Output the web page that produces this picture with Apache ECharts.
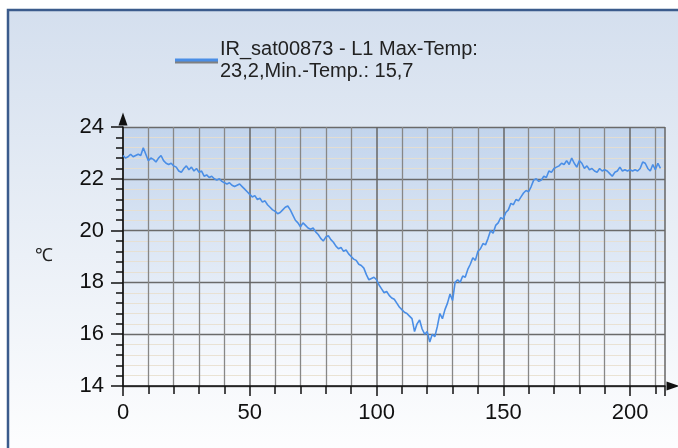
<!DOCTYPE html>
<html>
<head>
<meta charset="utf-8">
<script src="https://cdn.jsdelivr.net/npm/echarts@6/dist/echarts.min.js"></script>
<style>
html,body{margin:0;padding:0;background:#fff}
#chart{width:678px;height:448px}
</style>
</head>
<body>
<div id="chart"></div>
<script>
// temperature along the profile, one value per sample (0..212)
var temps = [
  22.9, 22.8, 22.85, 22.95, 22.85, 22.9, 22.95, 22.9, 23.2, 22.95,
  22.7, 22.8, 22.75, 22.65, 22.8, 22.9, 22.7, 22.6, 22.55, 22.6,
  22.5, 22.45, 22.3, 22.25, 22.4, 22.5, 22.35, 22.45, 22.3, 22.4,
  22.25, 22.3, 22.1, 22.15, 22.05, 22.1, 22.0, 21.95, 22.0, 21.9,
  21.85, 21.8, 21.85, 21.75, 21.7, 21.75, 21.8, 21.7, 21.6, 21.5,
  21.4, 21.3, 21.35, 21.2, 21.25, 21.1, 21.15, 21.0, 20.9, 20.8,
  20.75, 20.65, 20.7, 20.8, 20.9, 20.95, 20.8, 20.6, 20.4, 20.3,
  20.15, 20.3, 20.2, 20.1, 20.05, 20.1, 19.95, 19.85, 19.7, 19.6,
  19.75, 19.8, 19.65, 19.55, 19.4, 19.3, 19.35, 19.2, 19.25, 19.1,
  19.0, 18.9, 18.85, 18.7, 18.65, 18.55, 18.3, 18.1, 18.15, 18.2,
  18.1, 17.9, 17.75, 17.6, 17.65, 17.5, 17.4, 17.35, 17.2, 17.05,
  16.95, 16.85, 16.8, 16.7, 16.6, 16.1, 16.4, 16.55, 16.2, 16.0,
  16.1, 15.7, 16.0, 15.9, 16.3, 16.8, 16.6, 16.95, 17.2, 17.55,
  17.3, 18.0, 18.1, 18.0, 18.25, 18.2, 18.5, 18.7, 18.95, 18.85,
  19.2, 19.3, 19.5, 19.45, 19.7, 20.0, 19.9, 20.2, 20.3, 20.5,
  20.45, 20.7, 20.8, 21.05, 21.0, 21.2, 21.15, 21.3, 21.45, 21.55,
  21.5, 21.7, 21.95, 22.0, 21.9, 21.95, 22.1, 22.05, 22.3, 22.25,
  22.4, 22.45, 22.5, 22.6, 22.55, 22.7, 22.55, 22.8, 22.6, 22.45,
  22.7, 22.6, 22.4, 22.5, 22.35, 22.4, 22.3, 22.25, 22.4, 22.3,
  22.35, 22.3, 22.2, 22.1, 22.25, 22.3, 22.45, 22.3, 22.35, 22.3,
  22.35, 22.3, 22.35, 22.3, 22.4, 22.65, 22.6, 22.4, 22.3, 22.55,
  22.35, 22.6, 22.4
];
var seriesName = 'IR_sat00873 - L1 Max-Temp:\n23,2,Min.-Temp.: 15,7';
var yTicks = [14, 16, 18, 20, 22, 24];
var xTicks = [0, 50, 100, 150, 200];

var points = temps.map(function (v, i) { return [i, v]; });

var chart = echarts.init(document.getElementById('chart'));
var font = 'Liberation Sans, Arial, sans-serif';

chart.setOption({
  animation: false,
  graphic: [{
    type: 'rect',
    z: -10,
    shape: { x: 8, y: 10, width: 700, height: 460 },
    style: {
      fill: new echarts.graphic.LinearGradient(0, 0, 0, 1, [
        { offset: 0, color: '#d4dfee' },
        { offset: 1, color: '#ffffff' }
      ]),
      stroke: '#3b5b8c',
      lineWidth: 2.5
    }
  }],
  legend: {
    left: 170,
    top: 33,
    itemWidth: 43,
    itemHeight: 3,
    itemGap: 4,
    icon: 'rect',
    textStyle: { fontFamily: font, fontSize: 20, color: '#222', lineHeight: 22, padding: [0, 0, 0, -3] },
    data: [{ name: seriesName, itemStyle: { color: '#4a8ee6', shadowColor: '#808080', shadowOffsetY: 2, shadowBlur: 0 } }]
  },
  grid: {
    left: 123, top: 127, width: 542, height: 259,
    show: true,
    borderWidth: 0,
    backgroundColor: new echarts.graphic.LinearGradient(0, 0, 0, 1, [
      { offset: 0, color: '#c2d4ec' },
      { offset: 1, color: '#fbfcfe' }
    ])
  },
  xAxis: {
    type: 'value',
    min: 0,
    max: 213.8,
    interval: 50,
    axisLine: { lineStyle: { color: '#111', width: 1.5 }, symbol: ['none', 'triangle'], symbolSize: [9, 13], symbolOffset: [0, 8] },
    axisTick: { length: 10, lineStyle: { color: '#111', width: 1.5 } },
    minorTick: { show: true, splitNumber: 5, length: 8, lineStyle: { color: '#111', width: 1.5 } },
    splitLine: { show: true, lineStyle: { color: '#666', width: 1.5 } },
    minorSplitLine: { show: true, lineStyle: { color: '#878787', width: 1.3 } },
    axisLabel: {
      fontFamily: font, fontSize: 22, color: '#111', margin: 16,
      formatter: function (v) { return xTicks.indexOf(v) >= 0 ? String(v) : ''; }
    }
  },
  yAxis: {
    type: 'value',
    min: 14,
    max: 24,
    interval: 2,
    name: '℃',
    nameLocation: 'middle',
    nameGap: 70,
    nameRotate: 0,
    nameTextStyle: { fontFamily: font, fontSize: 18, color: '#222' },
    axisLine: { lineStyle: { color: '#111', width: 1.5 }, symbol: ['none', 'triangle'], symbolSize: [9, 13], symbolOffset: [0, 8] },
    axisTick: { length: 12, lineStyle: { color: '#111', width: 1.5 } },
    minorTick: { show: true, splitNumber: 5, length: 7, lineStyle: { color: '#111', width: 1.5 } },
    splitLine: { show: true, lineStyle: { color: '#6a6a6a', width: 1.3 } },
    minorSplitLine: { show: true, lineStyle: { color: 'rgba(232,222,205,0.85)', width: 1.2 } },
    axisLabel: {
      fontFamily: font, fontSize: 22, color: '#111', margin: 19,
      formatter: function (v) { return yTicks.indexOf(v) >= 0 ? String(v) : ''; }
    }
  },
  series: [{
    name: seriesName,
    type: 'line',
    data: points,
    showSymbol: false,
    lineStyle: { color: '#4a8ee6', width: 1.6 },
    itemStyle: { color: '#4a8ee6' }
  }]
});
</script>
</body>
</html>
